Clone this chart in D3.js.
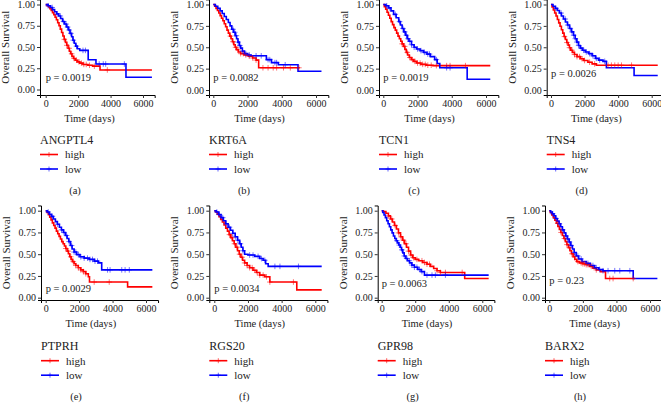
<!DOCTYPE html>
<html><head><meta charset="utf-8">
<script src="https://cdn.jsdelivr.net/npm/d3@7"></script>
<style>
html,body{margin:0;padding:0;background:#fff;}
svg{display:block;font-family:"Liberation Serif","DejaVu Serif",serif;}
</style></head>
<body><svg id="c" width="661" height="404"></svg>
<script>
// ---------------- data ----------------
const genes = ["ANGPTL4","KRT6A","TCN1","TNS4","PTPRH","RGS20","GPR98","BARX2"];
const panelLabels = ["(a)","(b)","(c)","(d)","(e)","(f)","(g)","(h)"];
const pvalTexts = ["p = 0.0019","p = 0.0082","p = 0.0019","p = 0.0026","p = 0.0029","p = 0.0034","p = 0.0063","p = 0.23"];
const pvalY = [0.147,0.145,0.15,0.195,0.108,0.108,0.165,0.20];
const groupNames = ["high","low"];
const xTicks = [0,2000,4000,6000];
const yTicks = [0,0.25,0.5,0.75,1];

// step points [day, survival] for the "high" group of each panel
const highSteps = [
 [[80,.985],[180,.97],[260,.95],[340,.93],[420,.905],[500,.88],[580,.85],[660,.82],[740,.785],[820,.75],[900,.71],[980,.67],[1060,.63],[1140,.59],[1220,.555],[1300,.52],[1380,.485],[1460,.45],[1540,.42],[1620,.39],[1720,.365],[1820,.345],[1950,.325],[2100,.31],[2300,.295],[2600,.285],[2900,.275],[3350,.23]],
 [[80,.98],[160,.955],[240,.93],[320,.90],[400,.87],[480,.84],[560,.81],[640,.775],[720,.74],[800,.70],[880,.665],[960,.63],[1040,.60],[1120,.565],[1200,.53],[1280,.50],[1360,.47],[1460,.445],[1600,.425],[1800,.41],[2050,.395],[2300,.375],[2500,.35],[2650,.26]],
 [[60,.975],[140,.945],[220,.91],[300,.875],[380,.84],[460,.80],[540,.765],[620,.73],[700,.70],[780,.665],[860,.63],[940,.60],[1020,.57],[1100,.54],[1180,.51],[1260,.475],[1340,.44],[1420,.41],[1520,.38],[1640,.355],[1780,.335],[1950,.315],[2200,.30],[2500,.29],[2900,.285]],
 [[60,.97],[140,.935],[220,.90],[300,.865],[380,.825],[460,.785],[540,.745],[620,.705],[700,.665],[780,.625],[860,.59],[940,.555],[1020,.525],[1100,.495],[1180,.465],[1280,.44],[1400,.415],[1550,.39],[1750,.365],[1950,.345],[2200,.325],[2450,.305],[2700,.29]],
 [[80,.98],[160,.955],[240,.925],[320,.895],[400,.86],[480,.83],[560,.80],[640,.765],[720,.735],[800,.705],[880,.675],[960,.645],[1040,.62],[1120,.595],[1200,.565],[1280,.535],[1360,.505],[1440,.47],[1520,.44],[1600,.415],[1700,.39],[1800,.37],[1950,.345],[2100,.32],[2250,.30],[2400,.275],[2550,.24],[2620,.18],[4900,.125]],
 [[80,.985],[180,.96],[280,.93],[380,.90],[480,.87],[580,.835],[680,.80],[780,.765],[880,.725],[980,.69],[1080,.655],[1180,.62],[1280,.58],[1380,.54],[1480,.50],[1580,.465],[1680,.43],[1800,.40],[1950,.37],[2100,.345],[2300,.315],[2500,.29],[2700,.26],[3000,.24],[3300,.18],[4900,.09]],
 [[100,.99],[250,.97],[400,.94],[520,.905],[640,.87],[760,.83],[880,.79],[1000,.745],[1120,.70],[1240,.66],[1360,.62],[1480,.58],[1600,.535],[1720,.49],[1850,.46],[2000,.44],[2200,.425],[2450,.405],[2700,.385],[2900,.36],[3100,.335],[3300,.31],[3500,.29],[4950,.22]],
 [[60,.98],[150,.95],[240,.92],[330,.89],[420,.855],[510,.82],[600,.785],[690,.75],[780,.715],[870,.68],[960,.645],[1050,.61],[1140,.575],[1230,.54],[1320,.505],[1420,.47],[1520,.44],[1640,.415],[1800,.40],[2000,.39],[2200,.38],[2400,.36],[2600,.34],[2800,.32],[3050,.30],[3350,.22]]
];
const highEnd = [6550,5050,6250,6360,6380,6380,6380,5100];
const highCensor = [
 [1150,1300,1450,1600,1750,1900,2050,2200,2350,2500,2700,3000,3800],
 [1000,1150,1300,1450,1600,1750,1900,2100,2300,2500,2900,3200,3500,3700,4100,4500,5000],
 [1100,1250,1400,1550,1700,1850,2000,2150,2300,2450,2600,2800,3100,3700,3900,4800],
 [800,950,1100,1250,1400,1550,1700,1850,2000,2300,2600,3400,3600,3800,4000,4200,4800],
 [1200,1350,1500,1650,1800,1950,2100,2250,2400,2900,3800],
 [900,1050,1200,1350,1500,1650,1800,1950,2100,2250,2400,2550,2700,2900,3100,3300,4700],
 [400,600,800,1000,1150,1300,1450,1600,1750,1900,2100,2400,2550,2700,2850,3300,3500,3800,4800],
 [500,700,900,1050,1200,1350,1500,1700,1900,2000,2100,2200,2300,2500,2800,3600,3800,5000]
];

// step points [day, survival] for the "low" group of each panel
const lowSteps = [
 [[150,.985],[300,.965],[420,.94],[550,.915],[680,.89],[800,.865],[920,.835],[1040,.80],[1160,.77],[1280,.735],[1400,.70],[1500,.66],[1600,.62],[1680,.58],[1760,.545],[1850,.51],[1950,.48],[2100,.46],[2620,.35],[3100,.30],[4950,.145]],
 [[120,.98],[260,.955],[400,.925],[520,.895],[640,.86],[760,.825],[880,.79],[980,.75],[1080,.71],[1180,.675],[1280,.635],[1360,.60],[1440,.56],[1520,.52],[1600,.49],[1700,.455],[1820,.425],[2000,.41],[2200,.40],[3100,.355],[3400,.32],[3800,.295],[4950,.22]],
 [[150,.985],[300,.96],[450,.925],[600,.885],[750,.845],[900,.80],[1000,.76],[1100,.72],[1200,.68],[1300,.64],[1400,.60],[1500,.57],[1650,.53],[1800,.50],[1950,.48],[2150,.46],[2350,.44],[2550,.42],[2750,.39],[3000,.355],[3150,.31],[3300,.26],[4900,.125]],
 [[120,.98],[250,.955],[380,.93],[500,.90],[620,.865],[740,.83],[860,.795],[980,.76],[1100,.72],[1220,.68],[1340,.64],[1440,.60],[1540,.56],[1640,.52],[1740,.49],[1880,.465],[2050,.445],[2250,.425],[2450,.40],[2650,.37],[2850,.35],[3100,.335],[3300,.26],[4950,.17]],
 [[100,.985],[220,.96],[340,.935],[460,.905],[580,.875],[700,.845],[820,.81],[940,.78],[1060,.75],[1180,.715],[1280,.68],[1380,.645],[1480,.60],[1580,.56],[1700,.525],[1850,.495],[2050,.47],[2300,.455],[2600,.44],[2900,.42],[3150,.40],[3350,.32]],
 [[120,.985],[260,.955],[400,.92],[540,.885],[680,.85],[820,.81],[960,.775],[1100,.74],[1240,.70],[1380,.66],[1500,.62],[1600,.58],[1700,.54],[1800,.50],[2000,.49],[2400,.475],[2700,.45],[2900,.43],[3050,.39],[3200,.36]],
 [[60,.98],[140,.95],[220,.92],[300,.885],[380,.85],[460,.815],[540,.78],[620,.745],[700,.71],[780,.68],[860,.655],[940,.63],[1020,.605],[1100,.58],[1180,.55],[1260,.515],[1340,.48],[1440,.45],[1540,.425],[1660,.40],[1800,.375],[1950,.35],[2150,.325],[2350,.30],[2550,.26]],
 [[80,.985],[180,.965],[280,.94],[380,.91],[480,.88],[580,.85],[680,.815],[780,.78],[880,.745],[980,.71],[1080,.675],[1180,.64],[1280,.60],[1380,.56],[1480,.52],[1600,.48],[1750,.445],[1950,.415],[2200,.395],[2450,.37],[2700,.345],[2950,.325],[3200,.31],[5000,.22]]
];
const lowEnd = [6550,6320,6250,6360,6380,6380,6380,6440];
const lowCensor = [
 [150,400,700,900,1100,1250,1350,1450,1550,1700,1900,2300,2450,3300,3550,3700,4850],
 [1150,1250,1350,1450,1550,1700,1900,2100,2500,2800,3200,3300,3600,3700,4200],
 [200,350,700,950,1150,1250,1350,1450,1550,1650,1800,2000,2200,2400,2600,2700,3100,3700,3900],
 [300,600,850,1000,1150,1250,1350,1450,1550,1650,1800,1950,2100,2300,2500,2700,2900,3200],
 [150,400,700,950,1100,1250,1400,1550,1700,1800,1950,2100,2300,2500,2650,2800,2950,3100,3700,3850,4550,4750,5000],
 [150,300,500,700,900,1100,1250,1400,1550,1700,2100,2300,2600,2800,3000,3600,3900,5000],
 [900,1050,1200,1350,1500,1650,1800,1950,2100,2250,2400,2700,3000,3200,3800],
 [200,400,600,800,1000,1100,1200,1300,1500,1700,1900,2300,2600,2800,3000,3200,3500,3900,4200,4800]
];

// ---------------- layout ----------------
const layout = [
 {ax:40,   x0:45.7,  x6:143,   yTop:4.5,   yBot:89.5,  axY:95},
 {ax:209,  x0:213.3, x6:316,   yTop:4.5,   yBot:90,    axY:95},
 {ax:379,  x0:383.3, x6:486,   yTop:4.5,   yBot:90,    axY:95},
 {ax:546.7,x0:551,   x6:651.7, yTop:4.5,   yBot:90,    axY:95},
 {ax:41,   x0:45.7,  x6:146,   yTop:210.7, yBot:297.7, axY:300},
 {ax:209.3,x0:214.3, x6:315.3, yTop:210.7, yBot:297.7, axY:300},
 {ax:377.7,x0:381.7, x6:482.3, yTop:210.7, yBot:297.7, axY:300},
 {ax:545,  x0:549.3, x6:650,   yTop:210.7, yBot:297.7, axY:300}
];
const colors = ["#FF0000","#0000FF"];
const textCol = "#222";
const serif = "'Liberation Serif', 'DejaVu Serif', serif";

const svg = d3.select("#c");

function survAt(steps, t){
  let s = 1;
  for (const [d,v] of steps){ if (d <= t) s = v; else break; }
  return s;
}
function stepPath(steps, end, x, y){
  const p = d3.path();
  let s = 1;
  p.moveTo(x(0), y(1));
  for (const [d,v] of steps){
    p.lineTo(x(d), y(s));
    p.lineTo(x(d), y(v));
    s = v;
  }
  p.lineTo(x(end), y(s));
  return p.toString();
}
function plus(cx, cy, r){
  return `M${cx-r},${cy}H${cx+r}M${cx},${cy-r}V${cy+r}`;
}

layout.forEach((L, i) => {
  const g = svg.append("g");
  const kx = (L.x6 - L.x0) / 6000;
  const xLo = (L.ax - L.x0) / kx;
  const x = d3.scaleLinear().domain([xLo, 6720]).range([L.ax, L.x0 + 6720*kx]);
  const ky = (L.yBot - L.yTop);
  const yLo = (L.yBot - L.axY) / ky;
  const y = d3.scaleLinear().domain([yLo, 1.06]).range([L.axY, L.yBot - 1.06*ky]);

  // axes
  const yAxis = d3.axisLeft(y).tickValues(yTicks).tickFormat(d3.format(".2f")).tickSizeOuter(0).tickSize(3).tickPadding(2);
  const gy = g.append("g").attr("transform", `translate(${L.ax},0)`).call(yAxis);
  const xAxis = d3.axisBottom(x).tickValues(xTicks).tickFormat(d3.format("d")).tickSizeOuter(0).tickSize(3).tickPadding(2);
  const gx = g.append("g").attr("transform", `translate(0,${L.axY})`).call(xAxis);
  [gx, gy].forEach(a => {
    a.attr("font-family", serif);
    a.select(".domain").attr("stroke", "#000").attr("stroke-width", 1);
    a.selectAll(".tick line").attr("stroke", "#333");
    a.selectAll(".tick text").attr("fill", textCol).style("font-size", "10px");
  });

  // axis titles
  g.append("text").attr("transform", `translate(${L.ax - 31},${(y(1.06)+L.axY)/2}) rotate(-90)`)
    .attr("text-anchor", "middle").attr("fill", textCol).style("font-size", "11px").text("Overall Survival");
  g.append("text").attr("x", x(2700)).attr("y", L.axY + 26.5)
    .attr("text-anchor", "middle").attr("fill", textCol).style("font-size", "10.5px").text("Time (days)");

  // curves
  const series = [
    {steps: highSteps[i], end: highEnd[i], cens: highCensor[i], col: colors[0]},
    {steps: lowSteps[i],  end: lowEnd[i],  cens: lowCensor[i],  col: colors[1]}
  ];
  series.forEach(s => {
    g.append("path").attr("d", stepPath(s.steps, s.end, x, y))
      .attr("fill", "none").attr("stroke", s.col).attr("stroke-width", 1.6);
  });
  series.forEach(s => {
    g.append("path").attr("d", s.cens.map(t => plus(x(t), y(survAt(s.steps, t)), 2.8)).join(""))
      .attr("fill", "none").attr("stroke", s.col).attr("stroke-width", 1).attr("stroke-opacity", 0.55);
  });

  // p value
  g.append("text").attr("x", x(0)).attr("y", y(pvalY[i]) + 3.5)
    .attr("fill", textCol).style("font-size", "10.5px").text(pvalTexts[i]);

  // legend
  const base = L.yTop;
  g.append("text").attr("x", L.ax).attr("y", base + 139)
    .attr("fill", textCol).style("font-size", "12px").text(genes[i]);
  groupNames.forEach((nm, j) => {
    const ly = base + 150 + j*14.5;
    g.append("line").attr("x1", L.ax).attr("x2", L.ax + 18).attr("y1", ly).attr("y2", ly)
      .attr("stroke", colors[j]).attr("stroke-width", 1.6);
    g.append("path").attr("d", plus(L.ax + 9, ly, 2.5)).attr("stroke", colors[j]).attr("stroke-width", 1).attr("stroke-opacity", 0.6);
    g.append("text").attr("x", L.ax + 25).attr("y", ly + 3.8)
      .attr("fill", textCol).style("font-size", "11px").text(nm);
  });
  g.append("text").attr("x", L.ax + 35).attr("y", base + 189.5)
    .attr("text-anchor", "middle").attr("fill", textCol).style("font-size", "10.5px").text(panelLabels[i]);
});
</script>
</body></html>
